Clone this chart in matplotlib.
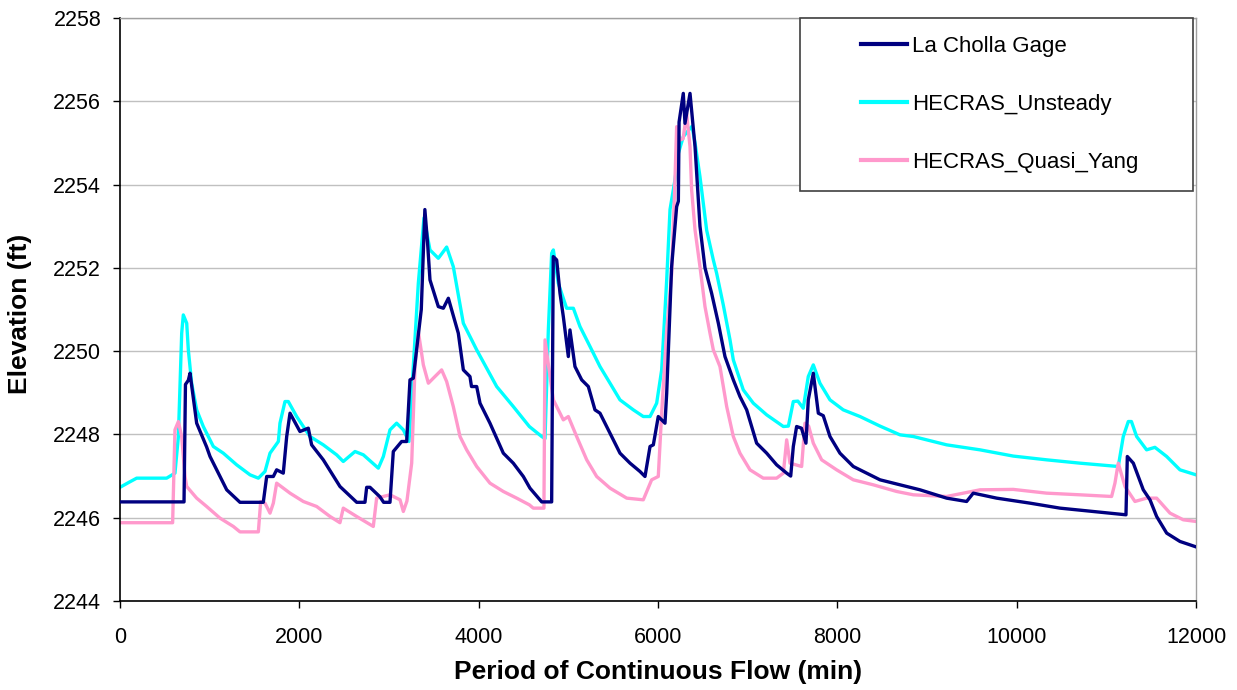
import matplotlib
matplotlib.use("Agg")
import matplotlib.pyplot as plt
from matplotlib.patches import Rectangle

plt.rcParams['font.family'] = ['Liberation Sans', 'DejaVu Sans']

# ---- data ----
gage_t = [0, 714, 730, 762, 781, 855, 966, 1004, 1115, 1190, 1338, 1598, 1636, 1710, 1747, 1821,
          1859, 1896, 2007, 2100, 2137, 2267, 2453, 2640, 2732, 2751, 2788, 2900, 2940, 3011,
          3048, 3141, 3197, 3234, 3271, 3360, 3400, 3430, 3457, 3550, 3606, 3662, 3773, 3829,
          3903, 3920, 3978, 4015, 4126, 4275, 4386, 4498, 4572, 4703, 4814, 4832, 4870, 4907,
          4944, 4981, 5000, 5018, 5074, 5149, 5223, 5297, 5353, 5427, 5502, 5576, 5688, 5799,
          5855, 5911, 5948, 6003, 6078, 6097, 6152, 6208, 6227, 6235, 6282, 6301, 6357, 6413,
          6468, 6524, 6598, 6673, 6747, 6840, 6914, 6989, 7100, 7212, 7323, 7435, 7480, 7509,
          7546, 7600, 7650, 7676, 7732, 7788, 7843, 7918, 8029, 8178, 8327, 8476, 8699, 8922,
          9219, 9442, 9516, 9777, 10148, 10483, 10855, 11219, 11234, 11301, 11412, 11487,
          11561, 11673, 11821, 12000]
gage_h = [2246.38, 2246.38, 2249.2, 2249.3, 2249.47, 2248.27, 2247.7, 2247.47, 2246.99, 2246.67,
          2246.37, 2246.37, 2246.99, 2246.99, 2247.15, 2247.07, 2247.95, 2248.51, 2248.07,
          2248.15, 2247.75, 2247.39, 2246.75, 2246.37, 2246.37, 2246.73, 2246.73, 2246.5,
          2246.37, 2246.37, 2247.59, 2247.83, 2247.83, 2249.31, 2249.35, 2251.0, 2253.4,
          2252.6, 2251.71, 2251.07, 2251.03, 2251.27, 2250.43, 2249.55, 2249.39, 2249.15,
          2249.15, 2248.75, 2248.27, 2247.55, 2247.31, 2246.99, 2246.71, 2246.38, 2246.38,
          2252.27, 2252.19, 2251.39, 2250.83, 2250.19, 2249.87, 2250.51, 2249.63, 2249.31,
          2249.15, 2248.59, 2248.51, 2248.19, 2247.87, 2247.55, 2247.31, 2247.11, 2246.99,
          2247.71, 2247.75, 2248.43, 2248.27, 2248.99, 2252.03, 2253.47, 2253.6, 2255.5,
          2256.19, 2255.47, 2256.19, 2254.91, 2253.0, 2252.0, 2251.39, 2250.67, 2249.87,
          2249.31, 2248.91, 2248.59, 2247.79, 2247.55, 2247.27, 2247.07, 2247.0, 2247.71,
          2248.19, 2248.15, 2247.79, 2248.83, 2249.47, 2248.51, 2248.45, 2247.95, 2247.55,
          2247.23, 2247.07, 2246.91, 2246.79, 2246.67, 2246.47, 2246.39, 2246.59, 2246.47,
          2246.35, 2246.23, 2246.15, 2246.07, 2247.47, 2247.31, 2246.67, 2246.43, 2246.03,
          2245.63, 2245.43, 2245.30]

unsteady_t = [0, 100, 186, 520, 613, 651, 688, 706, 744, 762, 799, 855, 929, 1041, 1152, 1301,
              1450, 1543, 1617, 1673, 1766, 1784, 1840, 1877, 1970, 2119, 2267, 2416, 2490,
              2621, 2714, 2881, 2937, 3011, 3085, 3160, 3223, 3271, 3327, 3390, 3457, 3550,
              3606, 3643, 3717, 3829, 3978, 4201, 4386, 4565, 4703, 4740, 4777, 4814, 4833,
              4888, 4981, 5056, 5130, 5242, 5353, 5465, 5576, 5725, 5836, 5911, 5985, 6041,
              6097, 6134, 6189, 6227, 6282, 6338, 6380, 6413, 6468, 6543, 6617, 6654, 6729,
              6803, 6840, 6951, 7063, 7212, 7398, 7454, 7509, 7560, 7620, 7676, 7732, 7806,
              7918, 8066, 8253, 8476, 8699, 8848, 9219, 9591, 9962, 10334, 10706, 11133,
              11189, 11245, 11280, 11338, 11449, 11542, 11673, 11821, 12000]
unsteady_h = [2246.73, 2246.85, 2246.95, 2246.95, 2247.07, 2247.95, 2250.43, 2250.87, 2250.67,
              2250.03, 2249.23, 2248.59, 2248.19, 2247.71, 2247.55, 2247.27, 2247.03, 2246.95,
              2247.11, 2247.55, 2247.83, 2248.27, 2248.79, 2248.79, 2248.43, 2247.95, 2247.75,
              2247.51, 2247.35, 2247.59, 2247.51, 2247.19, 2247.47, 2248.11, 2248.27, 2248.11,
              2247.83, 2249.63, 2251.63, 2253.2, 2252.43, 2252.23, 2252.39, 2252.5, 2252.03,
              2250.67, 2250.03, 2249.15, 2248.67, 2248.19, 2247.95, 2247.9, 2250.51, 2252.35,
              2252.43, 2251.63, 2251.03, 2251.03, 2250.59, 2250.11, 2249.63, 2249.23, 2248.83,
              2248.59, 2248.43, 2248.43, 2248.75, 2249.55, 2251.71, 2253.4, 2254.11, 2254.75,
              2255.15, 2255.3, 2255.4, 2255.0, 2254.19, 2252.9, 2252.19, 2251.87, 2251.1,
              2250.27, 2249.79, 2249.07, 2248.75, 2248.47, 2248.19, 2248.2, 2248.79, 2248.8,
              2248.63, 2249.39, 2249.67, 2249.23, 2248.83, 2248.59, 2248.43, 2248.2, 2247.99,
              2247.95, 2247.75, 2247.63, 2247.48, 2247.39, 2247.31, 2247.23, 2247.95, 2248.31,
              2248.31, 2247.95, 2247.63, 2247.69, 2247.47, 2247.15, 2247.03]

yang_t = [0, 587, 613, 651, 688, 725, 744, 855, 966, 1115, 1264, 1338, 1543, 1569, 1617, 1673,
          1710, 1747, 1896, 2044, 2193, 2342, 2453, 2490, 2639, 2825, 2862, 3011, 3123, 3160,
          3200, 3253, 3290, 3327, 3383, 3439, 3494, 3587, 3643, 3717, 3792, 3866, 3978, 4126,
          4275, 4424, 4565, 4609, 4728, 4740, 4796, 4833, 4944, 5000, 5093, 5205, 5316, 5465,
          5651, 5836, 5929, 6003, 6041, 6097, 6152, 6189, 6208, 6245, 6280, 6319, 6357, 6375,
          6413, 6468, 6524, 6580, 6617, 6691, 6766, 6840, 6914, 7026, 7174, 7323, 7398, 7435,
          7472, 7602, 7639, 7680, 7732, 7825, 7992, 8178, 8401, 8662, 8848, 9219, 9591, 9962,
          10334, 10706, 11059, 11096, 11133, 11208, 11319, 11449, 11561, 11710, 11858, 12000]
yang_h = [2245.88, 2245.88, 2248.11, 2248.31, 2247.95, 2246.99, 2246.75, 2246.47, 2246.27,
          2245.99, 2245.79, 2245.66, 2245.66, 2246.39, 2246.35, 2246.11, 2246.35, 2246.83,
          2246.59, 2246.39, 2246.27, 2246.03, 2245.88, 2246.23, 2246.03, 2245.79, 2246.47,
          2246.55, 2246.43, 2246.15, 2246.4, 2247.31, 2249.63, 2250.47, 2249.67, 2249.23,
          2249.35, 2249.55, 2249.27, 2248.67, 2247.95, 2247.63, 2247.23, 2246.83, 2246.63,
          2246.47, 2246.31, 2246.23, 2246.23, 2250.27, 2249.39, 2248.83, 2248.35, 2248.43,
          2247.95, 2247.39, 2246.99, 2246.71, 2246.47, 2246.43, 2246.91, 2246.99, 2248.51,
          2250.51, 2251.85, 2254.11, 2255.39, 2255.07, 2255.1, 2255.71, 2254.91, 2253.87,
          2252.91, 2252.03, 2251.07, 2250.43, 2250.03, 2249.63, 2248.67, 2247.95, 2247.55,
          2247.15, 2246.95, 2246.95, 2247.07, 2247.87, 2247.31, 2247.23, 2248.27, 2248.2,
          2247.79, 2247.39, 2247.15, 2246.91, 2246.79, 2246.63, 2246.55, 2246.51, 2246.67,
          2246.68, 2246.59, 2246.55, 2246.51, 2246.83, 2247.31, 2246.75, 2246.39, 2246.47,
          2246.47, 2246.11, 2245.95, 2245.91]

series_labels = ["La Cholla Gage", "HECRAS_Unsteady", "HECRAS_Quasi_Yang"]
x_ticks = [0, 2000, 4000, 6000, 8000, 10000, 12000]
y_ticks = [2244, 2246, 2248, 2250, 2252, 2254, 2256, 2258]

# ---- figure ----
fig = plt.figure(figsize=(12.37, 6.90), dpi=100)
ax = fig.add_axes([120 / 1237, 1 - 601 / 690, 1076 / 1237, 583 / 690])

ax.plot(gage_t, gage_h, color='#000080', lw=2.4, label=series_labels[0], zorder=3)
ax.plot(unsteady_t, unsteady_h, color='#00FFFF', lw=2.4, label=series_labels[1], zorder=2)
ax.plot(yang_t, yang_h, color='#FF99CC', lw=2.4, label=series_labels[2], zorder=2.5)

ax.set_xlim(0, 12000)
ax.set_ylim(2244, 2258)
ax.set_xticks(x_ticks)
ax.set_yticks(y_ticks)
ax.tick_params(axis='both', direction='out', length=5, width=1, labelsize=15.5, color='black')
ax.tick_params(axis='x', pad=14)
ax.tick_params(axis='y', pad=8.5)
ax.grid(axis='y', color='#C0C0C0', lw=1)
ax.set_axisbelow(True)

for s in ['left', 'bottom']:
    ax.spines[s].set_color('black')
    ax.spines[s].set_linewidth(1.2)
for s in ['right', 'top']:
    ax.spines[s].set_color('#A0A0A0')
    ax.spines[s].set_linewidth(1)

ax.set_xlabel("Period of Continuous Flow (min)", fontsize=19, fontweight='bold')
ax.set_ylabel("Elevation (ft)", fontsize=19, fontweight='bold')
ax.xaxis.label.set_va('center')
ax.yaxis.label.set_va('center')
ax.xaxis.set_label_coords(0.5, (601 - 672) / 583)
ax.yaxis.set_label_coords((20 - 120) / 1076, (601 - 314) / 583)

# legend frame
x0 = (800 - 120) / 1076
x1 = (1193 - 120) / 1076
y1 = (601 - 18) / 583
y0 = (601 - 191) / 583
rect = Rectangle((x0, y0), x1 - x0, y1 - y0, transform=ax.transAxes, facecolor='white',
                 edgecolor='#404040', lw=1.2, zorder=5, clip_on=False)
ax.add_patch(rect)

leg = ax.legend(loc='upper left', bbox_to_anchor=((861 - 120) / 1076, (601 - 36) / 583),
                frameon=False, borderpad=0, borderaxespad=0, handlelength=2.07,
                handletextpad=0.23, labelspacing=1.67, fontsize=16)
leg.set_zorder(6)
for ln in leg.get_lines():
    ln.set_linewidth(3)

fig.savefig("out.png", dpi=100)
